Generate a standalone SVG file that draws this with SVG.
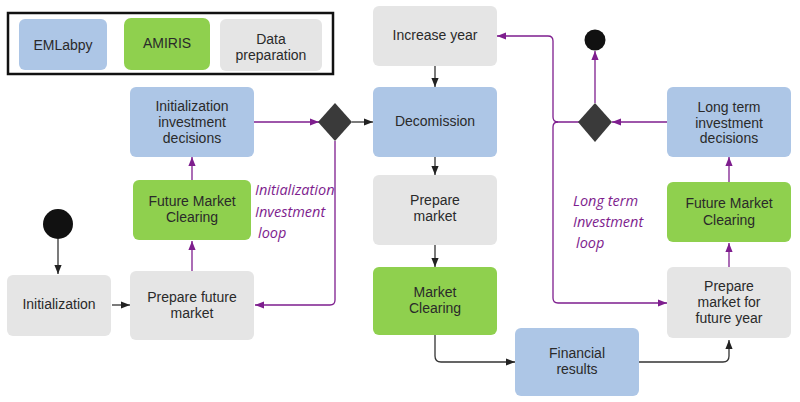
<svg xmlns="http://www.w3.org/2000/svg" width="800" height="402" viewBox="0 0 800 402">
<defs>
<marker id="ab" viewBox="0 0 10 10" refX="10" refY="5" markerWidth="9" markerHeight="9" markerUnits="userSpaceOnUse" orient="auto"><path d="M0,1 L10,5 L0,9 Z" fill="#222"/></marker>
<marker id="ap" viewBox="0 0 10 10" refX="10" refY="5" markerWidth="9" markerHeight="9" markerUnits="userSpaceOnUse" orient="auto"><path d="M0,1 L10,5 L0,9 Z" fill="#7e1e8e"/></marker>
</defs>
<style>
.b{fill:#adc6e6}
.g{fill:#8fd04e}
.y{fill:#e5e5e5}
text{font-family:"Liberation Sans",Arial,sans-serif;font-size:14px;fill:#2a2a2a;text-anchor:middle}
.lp{font-family:"Open Sans","DejaVu Sans",sans-serif;font-style:italic;font-size:14.5px;fill:#7e1e8e;text-anchor:start}
.cb{fill:none;stroke:#333;stroke-width:1.3}
.cp{fill:none;stroke:#7e1e8e;stroke-width:1.3}
</style>
<rect width="800" height="402" fill="#fff"/>
<g id="legend">
<rect x="8" y="13" width="325" height="61" fill="none" stroke="#111" stroke-width="2.5"/>
<rect class="b" x="19" y="19" width="88" height="51" rx="6"/>
<text x="63" y="50">EMLabpy</text>
<rect class="g" x="124" y="18" width="86" height="52" rx="7"/>
<text x="167" y="48">AMIRIS</text>
<rect class="y" x="220" y="19" width="102" height="52" rx="6"/>
<text x="271" y="44">Data</text>
<text x="271" y="60">preparation</text>
</g>
<g id="connectors">
<line class="cb" x1="58" y1="239" x2="58" y2="274" marker-end="url(#ab)"/>
<line class="cb" x1="112" y1="305" x2="130" y2="305" marker-end="url(#ab)"/>
<line class="cp" x1="192" y1="271" x2="192" y2="241" marker-end="url(#ap)"/>
<line class="cp" x1="192" y1="180" x2="192" y2="157" marker-end="url(#ap)"/>
<line class="cp" x1="254" y1="122" x2="319" y2="122" marker-end="url(#ap)"/>
<path class="cp" d="M335,141 V300 Q335,305 330,305 H255" marker-end="url(#ap)"/>
<line class="cb" x1="352" y1="122" x2="373" y2="122" marker-end="url(#ab)"/>
<line class="cb" x1="435" y1="66" x2="435" y2="87" marker-end="url(#ab)"/>
<line class="cb" x1="435" y1="157" x2="435" y2="175" marker-end="url(#ab)"/>
<line class="cb" x1="435" y1="245" x2="435" y2="267" marker-end="url(#ab)"/>
<path class="cb" d="M435,335 V356 Q435,362 441,362 H515" marker-end="url(#ab)"/>
<path class="cb" d="M639,362 H723 Q729,362 729,356 V340" marker-end="url(#ab)"/>
<line class="cp" x1="729" y1="267" x2="729" y2="243" marker-end="url(#ap)"/>
<line class="cp" x1="729" y1="182" x2="729" y2="157" marker-end="url(#ap)"/>
<line class="cp" x1="667" y1="122" x2="612" y2="122" marker-end="url(#ap)"/>
<line class="cp" x1="595" y1="103" x2="595" y2="51" marker-end="url(#ap)"/>
<path class="cp" d="M579,122 H558 Q553,122 553,117 V41 Q553,36 548,36 H497" marker-end="url(#ap)"/>
<path class="cp" d="M558,122 Q553,122 553,127 V298 Q553,303 558,303 H667" marker-end="url(#ap)"/>
</g>
<g id="start"><circle cx="58" cy="224" r="15" fill="#111"/></g>
<g id="end"><circle cx="595" cy="40" r="10.5" fill="#111"/></g>
<g id="init-invest">
<rect class="b" x="130" y="87" width="124" height="70" rx="6"/>
<text x="192" y="111">Initialization</text>
<text x="192" y="127">investment</text>
<text x="192" y="143">decisions</text>
</g>
<g id="fmc-left">
<rect class="g" x="133" y="180" width="118" height="60" rx="6"/>
<text x="192" y="206">Future Market</text>
<text x="192" y="222">Clearing</text>
</g>
<g id="initialization">
<rect class="y" x="7" y="275" width="104" height="61" rx="6"/>
<text x="59" y="309">Initialization</text>
</g>
<g id="prep-future">
<rect class="y" x="130" y="271" width="124" height="69" rx="6"/>
<text x="192" y="302">Prepare future</text>
<text x="192" y="318">market</text>
</g>
<g id="diamond-left"><path d="M335,103 L352,122 L335,141 L318,122 Z" fill="#3a3a3a"/></g>
<g id="loop-left">
<text class="lp" x="255" y="195">Initialization</text>
<text class="lp" x="255" y="217">Investment</text>
<text class="lp" x="258" y="238">loop</text>
</g>
<g id="increase-year">
<rect class="y" x="373" y="6" width="124" height="60" rx="6"/>
<text x="435" y="40">Increase year</text>
</g>
<g id="decomission">
<rect class="b" x="373" y="87" width="124" height="70" rx="6"/>
<text x="435" y="126">Decomission</text>
</g>
<g id="prep-market">
<rect class="y" x="373" y="175" width="124" height="70" rx="6"/>
<text x="435" y="205">Prepare</text>
<text x="435" y="221">market</text>
</g>
<g id="market-clearing">
<rect class="g" x="373" y="267" width="124" height="68" rx="6"/>
<text x="435" y="297">Market</text>
<text x="435" y="313">Clearing</text>
</g>
<g id="financial">
<rect class="b" x="515" y="328" width="124" height="68" rx="6"/>
<text x="577" y="358">Financial</text>
<text x="577" y="374">results</text>
</g>
<g id="prep-future-year">
<rect class="y" x="667" y="267" width="124" height="71" rx="6"/>
<text x="729" y="291">Prepare</text>
<text x="729" y="307">market for</text>
<text x="729" y="323">future year</text>
</g>
<g id="fmc-right">
<rect class="g" x="667" y="182" width="124" height="60" rx="6"/>
<text x="729" y="208">Future Market</text>
<text x="729" y="225">Clearing</text>
</g>
<g id="longterm-invest">
<rect class="b" x="667" y="87" width="124" height="70" rx="6"/>
<text x="729" y="112">Long term</text>
<text x="729" y="128">investment</text>
<text x="729" y="143">decisions</text>
</g>
<g id="diamond-right"><path d="M595,103 L612,122 L595,142 L578,122 Z" fill="#3a3a3a"/></g>
<g id="loop-right">
<text class="lp" x="573" y="206">Long term</text>
<text class="lp" x="573" y="227">Investment</text>
<text class="lp" x="576" y="248">loop</text>
</g>
</svg>
